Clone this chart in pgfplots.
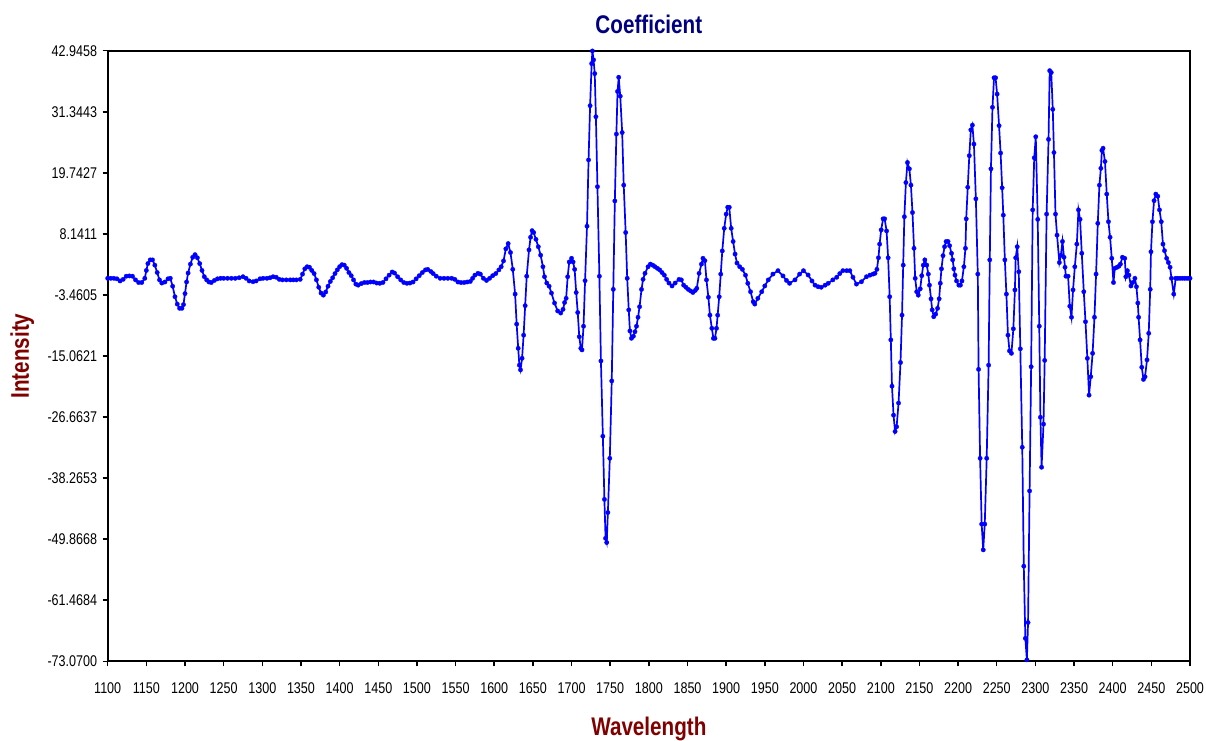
\documentclass[border=0pt]{standalone}
\usepackage{fontspec}
\setmainfont{Liberation Sans}[FakeStretch=0.81]
\usepackage{pgfplots}
\pgfplotsset{compat=1.18}
\definecolor{titleblue}{RGB}{0,0,128}
\definecolor{labelred}{RGB}{128,0,0}
\begin{document}
\begin{tikzpicture}
\useasboundingbox (-107.7pt,-78.7pt) rectangle (1098.3pt,661.3pt);
\begin{axis}[
  at={(0pt,0pt)}, anchor=south west,
  scale only axis, width=1082.3pt, height=610.6pt,
  xmin=1100, xmax=2500, ymin=-73.07, ymax=42.9458,
  clip=false,
  axis line style={line width=1.8pt, black},
  tick align=outside,
  major tick length=5pt,
  tick style={black, line width=1.5pt},
  xtick={1100,1150,...,2500},
  xtick pos=bottom, ytick pos=left,
  xticklabels={1100,1150,1200,1250,1300,1350,1400,1450,1500,1550,1600,1650,1700,1750,1800,1850,1900,1950,2000,2050,2100,2150,2200,2250,2300,2350,2400,2450,2500},
  ytick={-73.07,-61.4684,-49.8668,-38.2653,-26.6637,-15.0621,-3.4605,8.1411,19.7427,31.3443,42.9458},
  yticklabels={-73.0700,-61.4684,-49.8668,-38.2653,-26.6637,-15.0621,-3.4605,8.1411,19.7427,31.3443,42.9458},
  xticklabel style={font=\fontsize{15.5}{18}\selectfont, anchor=north, inner sep=0pt},
  yticklabel style={font=\fontsize{15.5}{18}\selectfont, anchor=east, inner sep=0pt},
  xticklabel shift=16pt,
  yticklabel shift=5.4pt,
  title={Coefficient},
  title style={font=\bfseries\fontsize{25.5}{30}\selectfont, text=titleblue, at={(axis description cs:0.5,1.0187)}, anchor=base},
  xlabel={Wavelength},
  xlabel style={font=\bfseries\fontsize{25.5}{30}\selectfont, text=labelred, at={(axis description cs:0.5,-0.1207)}, anchor=base},
  ylabel={Intensity},
  ylabel style={font=\bfseries\fontsize{25.5}{30}\selectfont, text=labelred, at={(axis description cs:-0.079,0.5)}, anchor=center, rotate=0},
]
\addplot[blue, line width=1.7pt, mark=*, mark size=2.2pt, mark options={solid, fill=blue, draw=blue, line width=0.3pt}] coordinates {
(1100,-0.3)(1104,-0.3)(1108,-0.3)(1112,-0.4)(1116,-0.8)(1120,-0.5)(1124,0.1)(1128,0.15)(1132,0.1)(1136,-0.6)
(1140,-1.1)(1144,-1.1)(1148,-0.3)(1150,1.2)(1152,2.5)(1155,3.2)(1158,3.2)(1161,2.2)(1164,0.8)(1167,-0.6)
(1170,-1.2)(1174,-1.0)(1178,-0.4)(1181,-0.3)(1184,-1.8)(1187,-3.8)(1190,-5.2)(1193,-6.0)(1196,-6.0)(1198,-5.3)
(1200,-3.2)(1202,-1.0)(1204,0.7)(1207,2.4)(1210,3.7)(1213,4.2)(1216,3.6)(1219,2.5)(1222,1.2)(1225,0.0)
(1228,-0.6)(1231,-1.0)(1234,-1.1)(1238,-0.7)(1242,-0.4)(1246,-0.3)(1250,-0.3)(1255,-0.3)(1260,-0.3)(1265,-0.3)
(1270,-0.2)(1275,0.0)(1279,-0.3)(1283,-0.8)(1288,-0.95)(1292,-0.8)(1297,-0.4)(1301,-0.3)(1306,-0.3)(1310,-0.2)
(1314,0.0)(1318,-0.1)(1322,-0.5)(1326,-0.6)(1331,-0.6)(1336,-0.6)(1340,-0.6)(1344,-0.6)(1349,-0.5)(1352,0.5)
(1355,1.5)(1358,1.9)(1361,1.8)(1364,1.2)(1367,0.6)(1370,-0.6)(1373,-2.0)(1376,-3.1)(1379,-3.5)(1382,-2.9)
(1385,-1.8)(1388,-0.9)(1391,-0.2)(1394,0.6)(1397,1.3)(1400,1.9)(1403,2.3)(1406,2.2)(1409,1.6)(1412,0.8)
(1415,0.2)(1418,-0.6)(1421,-1.4)(1424,-1.6)(1428,-1.3)(1432,-1.1)(1436,-1.1)(1440,-1.0)(1444,-1.0)(1448,-1.2)
(1452,-1.25)(1456,-1.1)(1460,-0.4)(1464,0.3)(1468,0.9)(1471,0.7)(1475,0.0)(1479,-0.6)(1483,-1.1)(1487,-1.25)
(1491,-1.2)(1495,-1.0)(1499,-0.4)(1503,0.2)(1507,0.8)(1511,1.3)(1514,1.4)(1518,1.0)(1521,0.6)(1525,0.1)
(1530,-0.3)(1535,-0.3)(1540,-0.3)(1545,-0.3)(1549,-0.5)(1553,-1.0)(1557,-1.1)(1561,-1.1)(1565,-1.0)(1569,-0.9)
(1572,-0.3)(1575,0.3)(1579,0.65)(1582,0.5)(1586,-0.3)(1590,-0.7)(1594,-0.3)(1598,0.2)(1602,0.6)(1606,1.3)
(1609,1.9)(1612,3.0)(1615,5.3)(1618,6.3)(1621,4.6)(1624,1.4)(1627,-3.3)(1629,-9.0)(1631,-13.6)(1632.5,-16.8)
(1634,-17.7)(1636,-15.5)(1638,-11.1)(1640,-5.5)(1642,0.1)(1645,5.1)(1647,7.5)(1649,8.75)(1651,8.4)(1654,7.1)
(1657,5.7)(1660,4.1)(1663,1.9)(1665,0.0)(1668,-1.2)(1671,-1.8)(1674,-3.1)(1678,-5.0)(1682,-6.5)(1686,-6.9)
(1689,-6.2)(1691,-4.9)(1693,-4.1)(1695,0.0)(1697,2.8)(1700,3.5)(1702,2.8)(1704,1.4)(1706,-3.0)(1708,-6.8)
(1710,-11.4)(1712,-13.6)(1713.5,-13.9)(1715.5,-9.4)(1717.5,-0.75)(1720,9.6)(1722,22.2)(1724,32.5)(1726,40.5)(1727,42.9)
(1728.5,41.2)(1730,38.6)(1731.5,30.4)(1733.5,17.1)(1736,0.1)(1738,-16.0)(1740.5,-30.3)(1742.5,-42.3)(1744,-49.7)(1745.5,-50.5)
(1747,-44.8)(1749.5,-34.5)(1752,-19.8)(1754,-2.4)(1756,14.4)(1758,27.1)(1759.5,35.2)(1761,37.9)(1763,34.3)(1765.5,27.4)
(1767.5,17.4)(1770,8.4)(1772,-0.3)(1774,-6.3)(1775.5,-10.3)(1777.5,-11.7)(1780,-11.3)(1782,-10.45)(1784,-9.4)(1786,-7.7)
(1788,-5.7)(1790.5,-2.4)(1792.5,-0.5)(1795,0.65)(1799,1.9)(1802,2.4)(1805,2.2)(1808,1.9)(1811,1.6)(1814,1.3)
(1817,0.8)(1820,0.3)(1823,-0.5)(1826,-1.2)(1830,-1.75)(1834,-1.2)(1839,-0.5)(1842,-0.6)(1845,-1.6)(1848,-2.0)
(1851,-2.4)(1854,-2.7)(1857,-3.0)(1860,-2.6)(1862,-2.2)(1865,0.65)(1868,2.4)(1870,3.5)(1872.5,3.05)(1874.5,-0.6)
(1877,-3.9)(1879,-7.3)(1881.5,-9.8)(1883.5,-11.7)(1885.5,-11.7)(1887.5,-9.8)(1889,-7.3)(1891,-3.8)(1893,0.5)(1895,4.9)
(1897.5,9.2)(1900,11.9)(1902,13.2)(1904,13.2)(1906.5,9.2)(1909,6.7)(1911.5,4.3)(1914,2.6)(1917.5,1.9)(1921,1.4)
(1925,0.3)(1928,-1.25)(1931.5,-2.85)(1935,-4.75)(1937,-5.2)(1941,-4.1)(1946,-2.85)(1950,-1.75)(1954.5,-0.6)(1960.5,0.5)
(1967,1.15)(1973.5,0.15)(1978,-0.7)(1982,-1.25)(1989,-0.6)(1995,0.5)(2000,1.15)(2006,0.33)(2011,-0.8)(2015,-1.6)
(2019,-1.9)(2023,-2.0)(2028,-1.6)(2032,-1.25)(2038,-0.6)(2043,-0.1)(2047,0.6)(2051,1.15)(2056,1.15)(2060,1.15)
(2064,-0.1)(2068.5,-1.4)(2075,-0.95)(2081.5,0.0)(2086,0.3)(2090,0.5)(2092.5,0.65)(2095,1.4)(2097,3.6)(2098.5,6.2)
(2100.5,8.9)(2103,11.0)(2105,11.0)(2107.5,8.7)(2109.5,3.6)(2111.5,-3.8)(2113,-12.0)(2114.5,-20.8)(2116.5,-26.3)(2118.5,-29.4)
(2120.5,-28.5)(2123,-24.0)(2125.5,-16.3)(2127.5,-7.3)(2129,2.2)(2130.5,11.4)(2132.5,17.9)(2134.5,21.7)(2137,20.5)(2139,17.4)
(2141,12.2)(2143,5.4)(2144.5,-0.3)(2146.5,-2.85)(2148.5,-3.5)(2151,-2.3)(2153,0.2)(2155,2.2)(2157,3.2)(2159.5,2.2)
(2161.5,0.5)(2163,-1.6)(2165,-4.2)(2166.5,-6.3)(2168.5,-7.6)(2171,-7.1)(2173.5,-6.0)(2175.5,-4.2)(2177,-1.25)(2178.5,1.5)
(2180.5,4.0)(2182.5,5.7)(2184.5,6.7)(2187,6.7)(2189,5.9)(2191.5,4.45)(2193,3.2)(2194.5,1.5)(2196,0.3)(2198,-0.8)
(2201,-1.6)(2203,-1.6)(2205,-0.8)(2207.5,1.9)(2209.5,5.4)(2210.5,11.0)(2212.5,17.0)(2214.5,23.0)(2216.5,27.9)(2218.5,28.8)
(2220.5,25.2)(2223,14.8)(2225.5,0.5)(2226.5,-17.6)(2228.5,-34.5)(2230.5,-47.0)(2232.5,-51.9)(2234.5,-47.0)(2237,-34.5)(2239.5,-16.8)
(2241,3.2)(2242.5,20.5)(2244.5,32.2)(2246.5,37.8)(2248.5,37.8)(2250.5,34.7)(2253,28.7)(2255,23.5)(2257,16.9)(2258.5,11.7)
(2260.5,3.2)(2262.5,-3.3)(2264.5,-11.1)(2266.5,-14.1)(2269,-14.55)(2271.5,-9.9)(2273.5,-2.5)(2274.5,3.6)(2276.5,5.7)(2278.5,0.95)
(2280.5,-13.7)(2283,-32.4)(2285,-55.0)(2287,-68.7)(2289,-72.8)(2290.5,-65.7)(2292.5,-40.7)(2294.5,-17.1)(2296.5,12.7)(2298.5,22.6)
(2300.5,26.6)(2303,10.9)(2305,-9.4)(2306.5,-26.7)(2308,-36.2)(2310.5,-28.0)(2312,-15.9)(2314.5,11.9)(2317,26.1)(2318.5,39.15)
(2320.5,38.8)(2322.5,31.8)(2324,23.6)(2326,11.9)(2328,7.9)(2331,2.7)(2333,4.1)(2335,6.7)(2337,3.7)(2338.3,1.8)
(2339.5,0.1)(2342.3,0.1)(2344.5,-5.6)(2346.7,-7.7)(2348.7,-2.5)(2351,1.9)(2353.6,6.2)(2355.7,12.7)(2357.8,10.9)(2360,4.45)
(2362.6,-2.85)(2364.8,-8.55)(2367.2,-15.5)(2369.4,-22.5)(2371.6,-19.0)(2374,-14.55)(2376.4,-7.7)(2378.5,0.5)(2380.7,10.15)(2382.8,17.4)
(2384.7,20.6)(2386,24.0)(2387.5,24.4)(2390,21.9)(2392.3,15.7)(2394.5,10.45)(2396.6,7.5)(2398.8,3.5)(2401,-1.1)(2402.7,1.6)
(2405.6,1.8)(2408,2.0)(2410,2.4)(2412.6,3.7)(2415.6,3.5)(2417,0.0)(2419,1.15)(2421,0.3)(2423.6,-1.75)(2426,-1.1)
(2428.7,-0.3)(2430.7,-1.9)(2432.5,-5.0)(2433.5,-7.7)(2435.4,-12.0)(2437.6,-17.2)(2439.8,-19.5)(2441.8,-19.0)(2444.4,-15.8)(2446.6,-10.75)
(2448.5,-2.4)(2449.5,4.75)(2451.4,10.45)(2453.5,14.45)(2455.8,15.7)(2458.3,15.3)(2460.5,12.7)(2462.8,10.45)(2465,6.2)(2467,4.95)
(2469.8,3.5)(2472,2.7)(2474.2,1.8)(2476,-0.3)(2479,-3.3)(2481.5,-0.3)(2484,-0.3)(2487,-0.3)(2490,-0.3)(2493,-0.3)
(2496,-0.3)(2499,-0.3)(2500,-0.3)
};
\end{axis}
\end{tikzpicture}
\end{document}
